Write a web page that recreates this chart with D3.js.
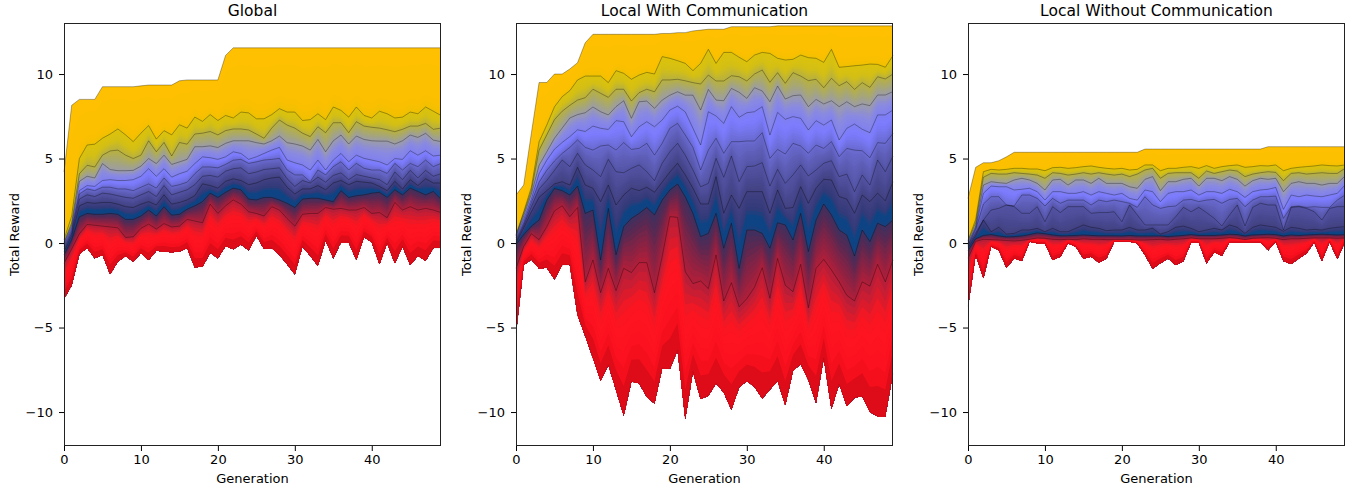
<!DOCTYPE html>
<html>
<head>
<meta charset="utf-8">
<script src="https://cdn.jsdelivr.net/npm/d3@7"></script>
<style>
html, body { margin: 0; background: #fff; }
svg { display: block; }
text { font-family: "DejaVu Sans", sans-serif; fill: #000; }
</style>
</head>
<body>
<svg id="chart" width="1351" height="490"></svg>
<script>
const titles = ["Global", "Local With Communication", "Local Without Communication"];
const xTicks = [0, 10, 20, 30, 40];
const yTicks = [-10, -5, 0, 5, 10];

// percentile curves, one value per generation
const globalP100 = [4.2,8.15,8.5,8.5,8.5,9.25,9.25,9.25,9.25,9.25,
    9.3,9.35,9.35,9.35,9.35,9.6,9.65,9.65,9.65,9.65,
    9.65,11.1,11.55,11.55,11.55,11.55,11.55,11.55,11.55,11.55,
    11.55,11.55,11.55,11.55,11.55,11.55,11.55,11.55,11.55,11.55,
    11.55,11.55,11.55,11.55,11.55,11.55,11.55,11.55,11.55,11.55];
const globalP90 = [.2,1.6,5.0,5.8,5.85,6.2,6.45,6.75,6.4,6.0,
    6.5,6.95,6.15,6.65,6.4,7.0,6.8,7.45,7.2,7.6,
    7.25,7.55,7.4,7.75,7.7,7.35,7.35,7.6,7.95,7.75,
    7.75,7.25,7.3,7.65,7.3,8.05,7.85,7.45,8.05,7.55,
    7.4,7.8,7.65,7.4,7.45,7.75,7.65,8.05,7.8,7.55];
const globalP80 = [.05,1.2,4.1,4.6,4.5,5.2,5.45,5.5,5.2,5.0,
    5.2,6.05,5.4,5.95,5.15,5.95,5.85,6.45,6.5,6.6,
    6.4,6.65,6.75,6.75,6.69,6.45,6.2,6.8,7.28,6.98,
    6.8,6.5,6.3,6.88,6.53,7.12,7.12,6.53,7.18,6.92,
    6.85,6.8,6.7,6.59,6.73,6.92,6.92,7.08,6.73,6.8];
const globalP70 = [0,1.05,3.65,3.95,3.85,4.7,4.35,4.28,4.28,4.3,
    4.55,5.0,4.7,5.2,4.65,4.8,4.95,5.7,5.7,5.75,
    5.65,5.9,6.05,6.05,6.05,5.94,5.86,6.05,6.33,5.94,
    5.86,5.74,5.5,6.13,5.4,6.05,6.39,5.86,6.33,6.13,
    6.05,6.03,6.03,5.86,6.05,6.39,6.25,6.49,6.09,6.0];
const globalP60 = [-.1,.9,3.1,3.4,3.35,3.7,3.75,3.7,3.7,3.75,
    3.95,4.4,3.95,4.4,3.9,4.1,4.25,4.7,5.1,5.05,
    4.95,5.1,5.4,5.3,4.95,5.1,5.3,5.5,5.66,4.91,
    4.75,4.62,4.32,4.91,4.32,4.91,5.3,4.81,5.2,5.01,
    4.91,4.81,4.62,5.0,4.95,5.46,5.2,5.46,5.15,5.2];
const globalP50 = [-.2,.75,2.9,3.2,3.1,3.3,3.3,3.2,3.2,3.1,
    3.3,3.5,3.25,3.85,3.35,3.45,3.6,4.1,4.5,4.5,
    4.45,4.65,4.9,4.95,4.71,4.8,4.91,4.95,5.01,4.32,
    4.03,4.03,3.63,4.32,4.03,4.52,4.81,4.32,4.71,4.42,
    4.32,4.32,4.12,4.71,4.32,4.71,4.52,4.91,4.52,4.71];
const globalP40 = [-.35,.6,2.6,2.85,2.75,2.95,2.9,2.8,2.7,2.65,
    2.85,3.05,2.75,3.4,2.85,3.0,3.15,3.45,3.95,4.0,
    3.9,4.25,4.4,4.45,4.1,4.2,4.35,4.4,4.45,3.8,
    3.35,3.7,3.55,3.9,3.6,4.0,4.15,3.75,4.05,3.95,
    3.85,3.75,3.45,4.2,3.75,4.3,3.85,4.3,3.95,4.1];
const globalP30 = [-.5,.45,2.2,2.4,2.35,2.4,2.4,2.3,2.15,2.1,
    2.3,2.45,2.25,2.85,2.3,2.4,2.55,2.8,3.5,3.4,
    3.25,3.65,3.8,3.7,3.45,3.55,3.75,3.85,3.9,3.3,
    2.9,3.2,3.2,3.4,3.15,3.55,3.7,3.45,3.65,3.6,
    3.55,3.35,3.1,3.65,3.2,3.75,3.4,3.8,3.55,3.55];
const globalP20 = [-.7,.2,1.55,1.75,1.7,1.7,1.75,1.7,1.4,1.4,
    1.6,1.95,1.6,2.15,1.65,1.7,2.0,2.2,2.45,2.95,
    2.7,3.0,3.25,3.15,2.6,2.55,2.7,2.7,2.55,2.35,
    2.1,2.6,2.65,2.65,2.55,2.45,3.1,2.7,2.8,2.85,
    2.95,3.0,2.7,3.15,2.85,3.25,3.05,2.85,3.05,2.6];
const globalP10 = [-1.2,-.35,.55,1.1,1.05,1.0,.95,.9,.33,.37,
    .87,1.12,.83,1.15,.95,1.0,1.4,1.3,1.2,2.3,
    1.75,2.2,2.55,2.3,1.85,1.75,1.6,2.15,1.95,1.45,
    1.0,1.7,1.75,1.75,2.1,2.0,2.05,1.95,1.95,2.1,
    1.75,1.8,1.5,2.4,1.95,2.15,1.95,2.05,1.95,1.8];
const globalP0 = [-3.3,-2.5,-.65,-.3,-.9,-.7,-1.85,-1.1,-.77,-1.1,
    -.6,-1.0,-.45,-.5,-.55,-.5,-.3,-1.44,-1.4,-.57,
    -.9,-.18,-.37,-.08,-.42,.43,-.35,-.3,-.7,-1.25,
    -1.85,-.2,-.75,-1.35,.15,-.9,.05,.05,-1.0,.35,
    .05,-1.25,0,-1.2,-.2,-1.3,-.75,-1.05,-.3,-.3];

const commP100 = [2.84,3.43,6.5,9.5,9.5,10.0,10.0,10.3,10.67,11.85,
    12.35,12.35,12.35,12.35,12.35,12.35,12.35,12.35,12.35,12.4,
    12.4,12.45,12.45,12.55,12.6,12.65,12.65,12.65,12.8,12.8,
    12.8,12.8,12.8,12.8,12.85,12.85,12.85,12.85,12.85,12.85,
    12.85,12.85,12.85,12.85,12.85,12.85,12.85,12.85,12.85,12.85];
const commP90 = [.5,1.85,3.3,5.99,6.98,8.06,8.66,9.02,9.65,9.88,
    9.88,9.88,9.49,10.2,10.04,9.69,9.94,10.1,10.0,11.03,
    10.93,10.79,10.63,10.2,10.63,11.46,10.63,11.28,11.28,10.99,
    10.73,11.12,11.28,11.22,10.93,10.83,10.87,11.12,10.97,10.93,
    10.69,11.46,10.4,10.44,10.49,10.53,10.59,10.57,10.4,11.09];
const commP80 = [.45,1.75,3.1,5.5,6.4,7.3,7.8,8.15,8.46,8.6,
    9.1,8.86,8.62,9.1,9.1,8.4,8.9,9.1,8.95,9.65,
    9.65,9.69,9.6,9.49,9.41,9.94,9.59,9.59,9.9,9.84,
    9.59,10.0,10.24,9.51,10.08,9.45,10.08,9.88,9.61,9.69,
    9.19,9.75,9.31,9.55,9.09,9.49,9.21,9.84,9.71,10.0];
const commP70 = [.4,1.6,2.9,4.6,5.4,6.2,6.8,7.4,7.6,7.71,
    8.05,7.77,7.58,8.07,8.42,7.38,8.36,8.4,7.97,8.46,
    8.75,8.95,8.75,8.75,7.87,9.09,8.46,8.42,9.15,8.92,
    8.56,9.19,9.0,8.36,9.29,8.52,8.72,8.76,8.07,8.5,
    8.23,8.42,8.07,8.36,8.07,8.23,8.13,8.76,8.76,8.96];
const commP60 = [.3,1.4,2.6,4.1,4.9,5.55,5.95,6.3,6.7,6.6,
    6.92,6.79,6.72,7.24,7.18,6.29,6.88,7.18,6.88,7.28,
    7.87,8.1,7.76,6.79,5.8,7.77,7.52,7.08,8.07,7.44,
    7.71,7.77,8.07,6.39,7.73,7.32,7.48,7.38,6.69,7.24,
    6.98,7.28,6.1,6.79,7.04,6.73,6.53,7.58,7.58,7.87];
const commP50 = [.2,1.2,2.4,3.6,4.3,4.85,5.3,5.66,6.1,5.66,
    5.5,5.74,5.8,5.5,5.94,5.54,5.6,5.9,5.2,5.9,
    6.79,7.08,6.39,5.66,4.32,5.5,6.2,5.31,6.0,6.0,
    6.04,6.04,6.53,5.01,5.54,5.27,5.9,5.74,5.31,5.8,
    5.6,6.0,5.11,5.6,5.5,5.46,5.05,5.94,5.9,6.49];
const commP40 = [.1,1.05,2.15,3.2,3.7,4.3,4.91,4.52,5.31,4.62,
    4.32,3.93,4.95,4.22,4.16,4.42,4.62,4.22,3.69,4.72,
    5.4,5.9,5.2,4.32,3.33,3.53,5.01,3.89,5.15,3.63,
    4.52,4.56,4.76,3.37,4.36,3.53,4.03,4.62,3.97,4.32,
    4.72,4.87,3.93,4.08,3.04,4.03,3.43,4.91,4.22,5.15];
const commP30 = [0,.9,1.85,2.7,3.1,3.5,3.63,3.43,4.48,3.43,
    3.24,2.45,3.43,2.25,2.84,3.24,3.1,3.3,3.0,3.6,
    4.2,4.72,4.03,3.24,2.31,2.31,3.93,1.76,2.84,2.05,
    3.04,3.04,3.04,1.76,3.14,2.05,2.1,3.33,2.35,3.24,
    3.77,3.73,2.75,2.6,1.76,2.84,2.45,2.95,2.5,3.63];
const commP20 = [-.1,.5,1.0,1.36,2.54,3.23,3.1,2.84,3.37,1.75,
    1.95,-1.0,2.05,-.7,.97,1.46,1.75,2.1,1.66,2.54,
    3.14,3.49,2.74,1.75,.38,.57,1.76,-.31,1.17,-1.5,
    .77,.77,.57,-.31,1.2,1.07,.18,1.76,-.51,1.36,
    2.31,1.66,.77,.47,-.77,.77,.08,1.17,.97,1.36];
const commP10 = [-1.5,-.2,.55,.2,.97,1.9,2.2,1.56,2.1,-2.3,
    -1.0,-2.94,-1.5,-2.82,-1.5,-1.75,-1.16,-1.16,-2.94,-.8,
    1.56,1.52,-1.7,-2.4,-2.25,-2.7,-.7,-3.43,-2.35,-3.77,
    -3.3,-2.62,-1.46,-3.27,-.91,-2.5,-2.88,-1.26,-3.83,-1.5,
    -.97,-1.6,-2.3,-3.1,-3.43,-2.3,-2.55,-1.26,-2.3,-1.0];
const commP0 = [-5.34,-1.3,-.97,-1.5,-1.46,-2.15,-1.3,-1.3,-4.26,-5.5,
    -6.8,-8.15,-7.2,-8.7,-10.2,-8.2,-8.3,-9.1,-9.5,-7.4,
    -7.45,-6.33,-10.4,-7.6,-9.23,-9.03,-8.3,-8.84,-9.85,-8.54,
    -8.17,-8.5,-9.2,-8.66,-8.15,-9.6,-7.55,-7.16,-8.1,-9.45,
    -6.8,-9.8,-8.34,-9.65,-9.15,-9.05,-10.0,-10.25,-10.25,-7.7];

const soloP100 = [2.64,4.48,4.75,4.75,4.87,5.1,5.37,5.37,5.37,5.37,
    5.37,5.37,5.37,5.37,5.37,5.37,5.37,5.37,5.37,5.37,
    5.37,5.37,5.37,5.56,5.56,5.56,5.56,5.56,5.56,5.56,
    5.56,5.56,5.56,5.56,5.56,5.56,5.56,5.56,5.56,5.7,
    5.7,5.7,5.7,5.7,5.7,5.7,5.7,5.7,5.7,5.7];
const soloP90 = [.15,1.4,4.22,4.36,4.32,4.36,4.42,4.42,4.38,4.38,
    4.28,4.46,4.48,4.42,4.46,4.52,4.56,4.48,4.42,4.38,
    4.42,4.32,4.36,4.62,4.62,4.28,4.42,4.42,4.48,4.52,
    4.42,4.58,4.42,4.52,4.58,4.62,4.48,4.52,4.58,4.56,
    4.62,4.28,4.42,4.48,4.52,4.56,4.62,4.58,4.56,4.62];
const soloP80 = [.1,1.2,3.89,4.12,4.08,4.08,4.16,4.12,4.08,4.02,
    3.83,4.16,4.12,4.02,4.08,4.16,4.08,4.16,4.08,4.02,
    4.08,3.93,4.08,4.32,4.42,3.83,4.12,4.16,4.16,4.16,
    3.83,4.26,4.12,4.22,4.32,4.26,3.93,4.08,4.16,4.22,
    4.18,3.69,4.12,4.16,4.08,4.12,4.16,4.12,4.12,4.42];
const soloP70 = [0,1.0,3.43,3.63,3.57,3.53,3.73,3.83,3.73,3.53,
    3.14,3.73,3.77,3.43,3.73,3.73,3.53,3.83,3.53,3.53,
    3.53,3.33,3.24,3.77,3.93,3.1,3.63,3.63,3.77,3.83,
    3.37,3.83,3.83,3.69,3.93,3.77,3.37,3.69,3.83,3.77,
    3.83,3.04,3.53,3.63,3.53,3.53,3.43,3.53,3.53,3.97];
const soloP60 = [-.1,.9,2.94,3.37,3.33,3.33,3.14,3.18,3.24,3.04,
    2.54,3.04,3.04,2.94,2.94,3.04,2.84,3.04,2.94,2.84,
    2.94,2.64,2.54,3.14,3.04,2.45,2.94,3.04,3.04,3.14,
    2.84,3.04,3.04,2.94,3.18,3.04,2.7,3.04,3.14,3.18,
    3.29,1.99,2.84,2.74,2.84,2.78,2.74,2.84,2.94,3.43];
const soloP50 = [-.15,.8,2.3,2.74,2.74,2.25,2.2,2.84,2.84,2.64,
    2.19,2.64,2.35,2.54,2.54,2.54,2.25,2.54,2.45,2.54,
    2.45,2.35,2.11,2.74,2.25,2.05,2.15,2.19,2.54,2.58,
    2.45,2.54,2.58,2.35,2.58,2.64,2.15,2.54,2.74,2.74,
    2.78,1.46,2.15,2.19,2.11,2.15,2.11,2.11,2.54,2.84];
const soloP40 = [-.2,.6,1.36,1.95,2.05,2.25,2.15,1.76,1.76,2.15,
    1.26,2.15,1.8,2.15,2.15,2.15,1.76,1.8,1.8,1.85,
    1.26,2.25,1.66,1.07,1.07,1.07,1.07,1.56,2.11,1.85,
    2.11,1.8,1.46,1.01,1.66,2.25,1.01,2.11,2.35,2.25,
    2.25,.77,2.1,2.15,2.05,1.85,1.36,2.05,2.15,2.15];
const soloP30 = [-.3,.45,1.36,.67,.93,.53,.57,.77,.77,.87,
    .67,.87,.67,.67,.87,1.07,.93,.87,.73,.77,
    .77,.93,.77,.77,.87,.53,.67,.93,1.0,.87,
    .67,.77,.87,.77,1.07,.93,.57,.93,1.07,1.0,
    .93,.7,.93,.87,.77,.81,.77,.87,.93,.97];
const soloP20 = [-.45,.25,.45,.5,.42,.36,.38,.42,.5,.6,
    .55,.48,.43,.43,.45,.48,.45,.43,.43,.43,
    .42,.45,.42,.42,.42,.42,.38,.42,.45,.5,
    .45,.45,.45,.48,.52,.5,.42,.48,.5,.52,
    .5,.42,.48,.45,.48,.5,.52,.5,.48,.5];
const soloP10 = [-.9,.1,.22,.2,.18,.15,.12,.16,.22,.3,
    .28,.22,.2,.22,.2,.25,.22,.22,.2,.2,
    .2,.2,.18,.18,.2,.22,.18,.22,.25,.3,
    .25,.25,.25,.28,.32,.28,.2,.28,.3,.32,
    .28,.2,.25,.25,.28,.3,.3,.3,.28,.3];
const soloP0 = [-3.77,-.71,-2.09,-.22,-.42,-1.46,-.91,-1.07,.08,-.02,
    -.02,-1.01,-.81,-.02,-.22,-.91,-.81,-1.15,-.91,.08,
    .08,.08,-.02,-.71,-1.5,-1.2,-.91,-1.3,-1.07,.04,
    .04,-1.2,-.55,-.75,.04,.04,.04,.04,.04,-.42,
    .08,-1.07,-1.24,-.91,-.61,.04,-1.07,.08,-.95,.08];

const panels = [
    [globalP0, globalP10, globalP20, globalP30, globalP40, globalP50, globalP60, globalP70, globalP80, globalP90, globalP100],
    [commP0, commP10, commP20, commP30, commP40, commP50, commP60, commP70, commP80, commP90, commP100],
    [soloP0, soloP10, soloP20, soloP30, soloP40, soloP50, soloP60, soloP70, soloP80, soloP90, soloP100]
];

// colour per percentile of the fan
const colorStops = [0, 1, 1.6, 5, 6.5, 8, 10, 15, 17, 20, 20.6, 24, 25, 26, 30, 35, 40, 45, 50, 55, 57, 60, 65, 70, 75, 80, 85, 90, 93, 96, 100];
const colorValues = ["#dc0c18", "#de0c18", "#fa101e", "#ff1420", "#f01824", "#d01c30", "#b01e3a", "#7a2448", "#5e2850", "#3c3060",
    "#0e4484", "#0e4484", "#2e3c78", "#343a7a", "#414182", "#4a4a94", "#5353a4", "#5e5eb8", "#6a6ad0", "#7878f4", "#7c7cff",
    "#8080f0", "#8a8ae0", "#9c9ca8", "#a8a870", "#b8b040", "#d4bf14", "#dcc20c", "#f0c000", "#fcc000", "#fec000"];

const plotWidth = 377, plotTop = 23, plotBottom = 446;
const lefts = [64, 516, 968];

const svg = d3.select("#chart");
const gens = d3.range(50);
const color = d3.scaleLinear().domain(colorStops).range(colorValues);

// where percentile p sits for generation g, the two end bands are squeezed like the real spread
function levelAt(curves, p, g) {
    let d = Math.min(Math.floor(p / 10), 9);
    let f = (p - d * 10) / 10;
    if (d === 9) f = Math.pow(f, 3);
    if (d === 0) f = Math.pow(f, 0.7);
    return curves[d][g] + (curves[d + 1][g] - curves[d][g]) * f;
}

panels.forEach(function (curves, i) {
    let x = d3.scaleLinear().domain([0, 49]).range([lefts[i], lefts[i] + plotWidth]);
    let y = d3.scaleLinear().domain([-12.01, 13.02]).range([plotBottom, plotTop]);
    let g = svg.append("g");

    // nested areas from the top percentile down, so no seams show
    for (let p = 100; p > 0; p--) {
        let area = d3.area()
            .x(d => x(d))
            .y0(d => y(curves[0][d]))
            .y1(d => y(levelAt(curves, p, d)));
        g.append("path")
            .attr("d", area(gens))
            .attr("fill", color(p - 0.5));
    }

    let line = d3.line().x((d, k) => x(k)).y(d => y(d));
    curves.forEach(function (c, k) {
        g.append("path")
            .attr("d", line(c))
            .attr("fill", "none")
            .attr("stroke", "#000")
            .attr("stroke-width", 0.7)
            .attr("stroke-opacity", k === 0 ? 0.15 : 0.45);
    });

    let xAxis = d3.axisBottom(x).tickValues(xTicks).tickFormat(d3.format("d")).tickSize(5).tickPadding(4);
    let yAxis = d3.axisLeft(y).tickValues(yTicks).tickFormat(d3.format("d")).tickSize(5).tickPadding(6);

    g.append("g").attr("transform", "translate(0," + plotBottom + ")").call(xAxis)
        .call(s => s.select(".domain").remove())
        .selectAll("text").style("font-size", "13px").style("font-family", "DejaVu Sans");
    g.append("g").attr("transform", "translate(" + lefts[i] + ",0)").call(yAxis)
        .call(s => s.select(".domain").remove())
        .selectAll("text").style("font-size", "13px").style("font-family", "DejaVu Sans");

    g.append("rect")
        .attr("x", lefts[i] + 0.5)
        .attr("y", plotTop + 0.5)
        .attr("width", plotWidth - 1)
        .attr("height", plotBottom - plotTop - 1)
        .attr("fill", "none")
        .attr("stroke", "#222")
        .attr("stroke-width", 1);

    g.append("text")
        .attr("x", lefts[i] + plotWidth / 2)
        .attr("y", plotTop - 7)
        .attr("text-anchor", "middle")
        .style("font-size", "15.5px")
        .text(titles[i]);

    g.append("text")
        .attr("x", lefts[i] + plotWidth / 2)
        .attr("y", 483)
        .attr("text-anchor", "middle")
        .style("font-size", "13px")
        .text("Generation");

    g.append("text")
        .attr("transform", "translate(" + (lefts[i] - 45) + "," + (plotTop + plotBottom) / 2 + ") rotate(-90)")
        .attr("text-anchor", "middle")
        .style("font-size", "13px")
        .text("Total Reward");
});
</script>
</body>
</html>
